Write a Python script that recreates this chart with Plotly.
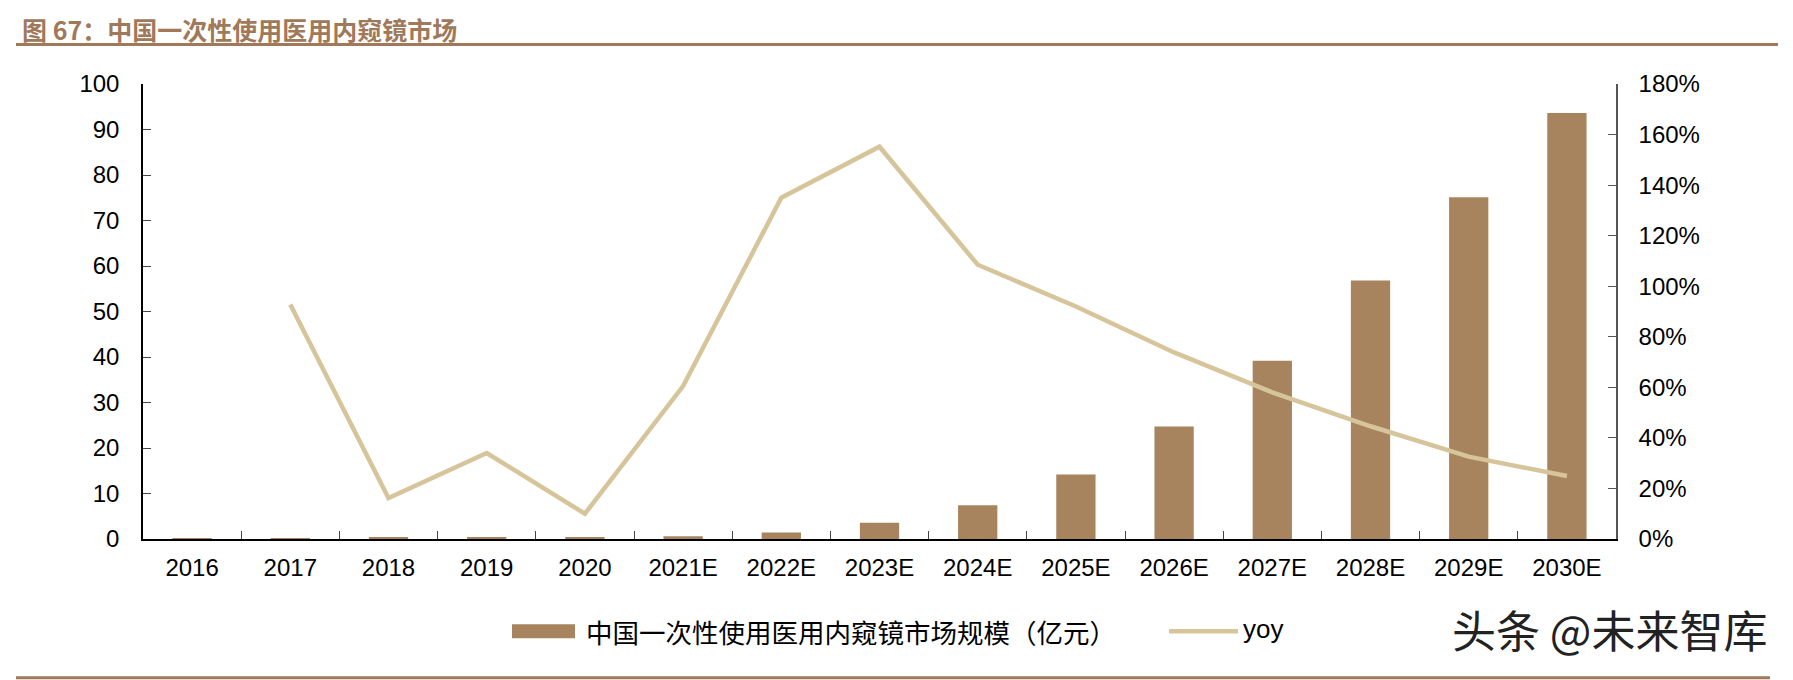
import plotly.graph_objects as go

# ---- data ----
years = ["2016", "2017", "2018", "2019", "2020", "2021E", "2022E", "2023E",
         "2024E", "2025E", "2026E", "2027E", "2028E", "2029E", "2030E"]
market = [0.11, 0.2, 0.25, 0.33, 0.36, 0.58, 1.45, 3.57, 7.4, 14.2, 24.7, 39.2, 56.8, 75.1, 93.6]
yoy = [None, 0.928, 0.162, 0.340, 0.100, 0.605, 1.350, 1.552, 1.085, 0.920, 0.738,
       0.580, 0.446, 0.326, 0.249]
bar_name = "中国一次性使用医用内窥镜市场规模（亿元）"
line_name = "yoy"
title_text = "图 67：中国一次性使用医用内窥镜市场"
watermark = "头条 @未来智库"

BAR_C = "#A8845E"
LINE_C = "#D6C49A"
TITLE_C = "#A0785A"
OFF = 8  # browser body margin
W, H = 1793 - OFF, 680 - OFF
# plot area in page pixels
PL, PR, PT, PB = 143, 1616, 83.5, 539.5
L, R, T, B = PL - OFF, PR - OFF, PT - OFF, PB - OFF


def px_x(p):
    return (p - PL) / (PR - PL)


def px_y(p):
    return (PB - p) / (PB - PT)


fig = go.Figure()
fig.add_trace(go.Bar(x=years, y=market, name=bar_name, marker=dict(color=BAR_C, line=dict(width=0)),
                     width=0.4, showlegend=False))
fig.add_trace(go.Scatter(x=years, y=yoy, name=line_name, yaxis="y2", mode="lines",
                         line=dict(color=LINE_C, width=4.5), connectgaps=False, showlegend=False))

tickfont = dict(family="Liberation Sans, Arial, sans-serif", size=24, color="#000")
fig.update_layout(
    width=W, height=H, autosize=False,
    margin=dict(l=L, r=W - R, t=T, b=H - B, pad=0),
    plot_bgcolor="white", paper_bgcolor="white",
    xaxis=dict(showline=True, linecolor="#000", linewidth=1.5, ticks="inside", ticklen=8,
               tickcolor="#444", tickson="boundaries", tickfont=tickfont, showgrid=False,
               ticklabelstandoff=6),
    yaxis=dict(range=[0, 100], dtick=10, showline=True, linecolor="#000", linewidth=1.5,
               ticks="inside", ticklen=8, tickcolor="#444", tickfont=tickfont, showgrid=False,
               zeroline=False, ticklabelstandoff=17),
    yaxis2=dict(range=[0, 1.8], dtick=0.2, tickformat=".0%", overlaying="y", side="right",
                showline=True, linecolor="#555", linewidth=1.5, ticks="inside", ticklen=8,
                tickcolor="#555", tickfont=tickfont, showgrid=False, zeroline=False,
                ticklabelstandoff=16),
    bargap=0.6,
)

shapes = [
    dict(type="line", xref="paper", yref="paper", x0=px_x(16), x1=px_x(1778), y0=px_y(44), y1=px_y(44),
         line=dict(color=TITLE_C, width=3)),
    dict(type="line", xref="paper", yref="paper", x0=px_x(16), x1=px_x(1770), y0=px_y(678.5), y1=px_y(678.5),
         line=dict(color=TITLE_C, width=3)),
    dict(type="rect", xref="paper", yref="paper", x0=px_x(512), x1=px_x(575), y0=px_y(639), y1=px_y(625),
         fillcolor=BAR_C, line=dict(width=0)),
    dict(type="line", xref="paper", yref="paper", x0=px_x(1169), x1=px_x(1238), y0=px_y(632), y1=px_y(632),
         line=dict(color=LINE_C, width=4.5)),
]
annotations = [
    dict(text="<b>" + title_text + "</b>", xref="paper", yref="paper", x=px_x(20), y=px_y(8.2),
         xanchor="left", yanchor="top", showarrow=False,
         font=dict(family="Noto Sans CJK SC, sans-serif", size=25, color=TITLE_C)),
    dict(text=bar_name, xref="paper", yref="paper", x=px_x(584), y=px_y(632),
         xanchor="left", yanchor="middle", showarrow=False,
         font=dict(family="Noto Sans CJK SC, sans-serif", size=26.5, color="#000")),
    dict(text=line_name, xref="paper", yref="paper", x=px_x(1241), y=px_y(630),
         xanchor="left", yanchor="middle", showarrow=False,
         font=dict(family="Liberation Sans, Arial, sans-serif", size=26, color="#000")),
    dict(text=watermark, xref="paper", yref="paper", x=px_x(1609), y=px_y(630),
         xanchor="center", yanchor="middle", showarrow=False,
         font=dict(family="Noto Sans CJK SC, sans-serif", size=44, color="#222")),
]
fig.update_layout(shapes=shapes, annotations=annotations)

fig.write_html("out.html")
